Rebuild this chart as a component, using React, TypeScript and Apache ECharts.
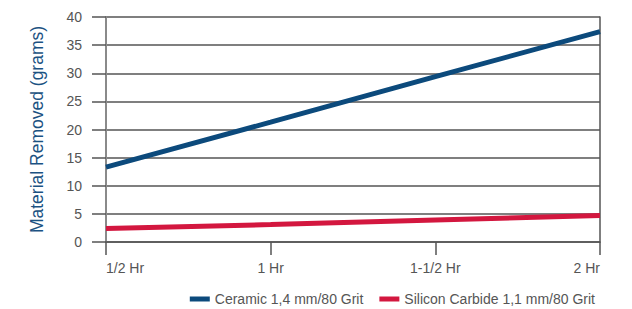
import React, { useEffect, useRef } from "react";
import * as echarts from "echarts";

const categories = ["1/2 Hr", "1 Hr", "1-1/2 Hr", "2 Hr"];
const ceramic = [13.3, 21.3, 29.4, 37.4];
const siliconCarbide = [2.4, 3.1, 3.9, 4.7];
const yTicks = { min: 0, max: 40, interval: 5 };

const FONT = "'Liberation Sans', Arial, sans-serif";

export default function App() {
  const ref = useRef<HTMLDivElement>(null);
  useEffect(() => {
    if (!ref.current) return;
    const chart = echarts.init(ref.current, undefined, { renderer: "svg" });
    chart.setOption({
      animation: false,
      grid: { left: 106, right: 32, top: 17, bottom: 67, containLabel: false },
      legend: {
        right: 32,
        top: 286,
        itemWidth: 20,
        itemHeight: 5,
        itemGap: 16,
        icon: "rect",
        textStyle: { fontFamily: FONT, fontSize: 14, color: "#555", lineHeight: 16 },
        data: ["Ceramic 1,4 mm/80 Grit", "Silicon Carbide 1,1 mm/80 Grit"],
      },
      xAxis: {
        type: "category",
        boundaryGap: false,
        data: categories,
        axisLine: { show: true, lineStyle: { color: "#555", width: 1.5 } },
        axisTick: { show: true, length: 13, lineStyle: { color: "#555", width: 1.5 } },
        axisLabel: {
          fontFamily: FONT,
          fontSize: 14,
          color: "#555",
          margin: 19,
          alignMinLabel: "left",
          alignMaxLabel: "right",
        },
      },
      yAxis: [
        {
          type: "value",
          min: yTicks.min,
          max: yTicks.max,
          interval: yTicks.interval,
          name: "Material Removed (grams)",
          nameLocation: "middle",
          nameGap: 60,
          nameTextStyle: { fontFamily: FONT, fontSize: 17.5, color: "#1b5282" },
          axisLine: { show: true, lineStyle: { color: "#8a8a8a", width: 2 } },
          axisTick: { show: true, length: 14, lineStyle: { color: "#555", width: 1.5 } },
          axisLabel: { fontFamily: FONT, fontSize: 14, color: "#555", margin: 24 },
          splitLine: { show: true, lineStyle: { color: "#555", width: 1.5 } },
        },
        {
          type: "value",
          position: "right",
          min: yTicks.min,
          max: yTicks.max,
          interval: yTicks.interval,
          axisLine: { show: true, lineStyle: { color: "#555", width: 1.5 } },
          axisTick: { show: false },
          axisLabel: { show: false },
          splitLine: { show: false },
        },
      ],
      series: [
        {
          name: "Ceramic 1,4 mm/80 Grit",
          type: "line",
          data: ceramic,
          symbol: "none",
          lineStyle: { color: "#0c4a7c", width: 5 },
          itemStyle: { color: "#0c4a7c" },
          z: 3,
        },
        {
          name: "Silicon Carbide 1,1 mm/80 Grit",
          type: "line",
          data: siliconCarbide,
          symbol: "none",
          lineStyle: { color: "#d3173f", width: 5 },
          itemStyle: { color: "#d3173f" },
          z: 3,
        },
      ],
    });
    return () => chart.dispose();
  }, []);
  return <div ref={ref} style={{ width: 632, height: 309, position: "absolute", left: 0, top: 0 }} />;
}
